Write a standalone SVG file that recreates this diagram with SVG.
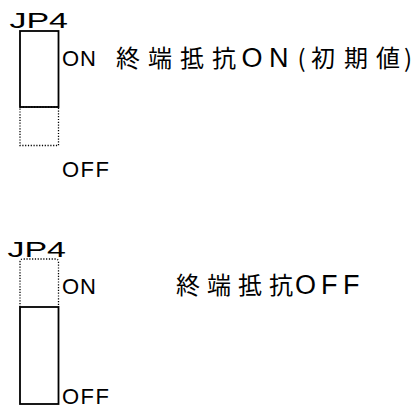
<svg xmlns="http://www.w3.org/2000/svg" width="416" height="410" viewBox="0 0 416 410">
<style>
.lat{font-family:"Liberation Sans",Arial,sans-serif;font-size:22px;fill:#000}
.jp{font-family:"Liberation Sans",Arial,sans-serif;font-size:22px;fill:#000}
.cjk{font-family:"Noto Sans CJK JP","Noto Sans CJK SC",sans-serif;font-size:24px;fill:#000}
.wl{font-family:"Liberation Sans",Arial,sans-serif;font-size:27px}
.solid{fill:none;stroke:#000;stroke-width:1.8}
.dot{fill:none;stroke:#000;stroke-width:1.3;stroke-dasharray:1.2 1.6}
</style>
<rect width="416" height="410" fill="#fff"/>
<g id="jumper-on">
<text class="jp" x="9.5" y="28" textLength="58.5" lengthAdjust="spacingAndGlyphs">JP4</text>
<rect class="dot" x="20" y="107" width="38.5" height="38.5"/>
<rect class="solid" x="20" y="31" width="38.5" height="76"/>
<text class="lat" x="62" y="66" textLength="34" lengthAdjust="spacing">ON</text>
<text class="lat" x="62" y="177" textLength="47" lengthAdjust="spacing">OFF</text>
</g>
<g id="label-on">
<text class="cjk" y="67"><tspan x="116 148 180 212">終端抵抗</tspan><tspan class="wl" x="241.5 269">ON</tspan><tspan x="297.5 311 344 376 404">(初期値)</tspan></text>
</g>
<g id="jumper-off">
<text class="jp" x="7.5" y="257" textLength="58.5" lengthAdjust="spacingAndGlyphs">JP4</text>
<path class="dot" d="M20 307 V262 Q20 259 23 259 H55.5 Q58.5 259 58.5 262 V307"/>
<rect class="solid" x="20" y="307" width="38.5" height="97"/>
<text class="lat" x="62" y="294" textLength="34" lengthAdjust="spacing">ON</text>
<text class="lat" x="62" y="404" textLength="47" lengthAdjust="spacing">OFF</text>
</g>
<g id="label-off">
<text class="cjk" y="294"><tspan x="176 207 238 269">終端抵抗</tspan><tspan class="wl" x="295 321 343">OFF</tspan></text>
</g>
<g id="connectors"/>
</svg>
